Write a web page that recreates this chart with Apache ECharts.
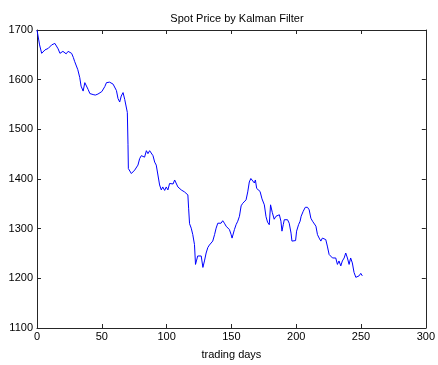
<!DOCTYPE html>
<html>
<head>
<meta charset="utf-8">
<style>
	html, body { margin: 0; padding: 0; background: #ffffff; }
	#chart { width: 438px; height: 365px; }
</style>
<script src="https://cdn.jsdelivr.net/npm/echarts@6/dist/echarts.min.js"></script>
</head>
<body>
<div id="chart"></div>
<script>
// trading day / filtered spot price
var days = [
	0, 1, 2, 3.6, 5, 6.2, 7.5, 8.7, 10, 11.3, 12.5, 13.8, 15, 16.3, 17.7, 19, 20, 21, 22.5, 24,
	25.4, 26.7, 28, 29, 30, 31.5, 33, 34, 35.6, 36.9, 37.7, 39.5, 40.8, 42, 43.3, 45, 45.9, 47, 48.5, 50,
	51, 52.3, 53.6, 54.8, 56, 57.4, 58.7, 60, 61.3, 62.5, 63.8, 65, 66.4, 67.7, 69, 69.7, 70.2, 70.5, 71.5, 72.8,
	74, 75.4, 76.5, 77.9, 79.2, 80.5, 81.8, 83, 84.4, 85.6, 86.9, 88.2, 89.5, 90.8, 92, 93.3, 94.6, 95.9, 97, 98.5,
	99.7, 101, 102.3, 103.6, 105, 106.2, 107.5, 108.7, 110, 111.3, 112.6, 113.8, 115.2, 116.4, 117, 117.7, 119, 120.2, 121.5, 122.3,
	123, 124, 125.4, 126.7, 128, 129.2, 130.5, 131.8, 133, 134.4, 135.6, 137, 138.2, 139.5, 140.8, 142, 143.3, 144.6, 145.9, 147.2,
	148.5, 149.8, 150.5, 152.3, 153.6, 154.9, 156.2, 157.5, 158.7, 160, 161.3, 162.6, 163.8, 165, 166.4, 167.7, 168.5, 169.5, 171, 172.1,
	173.6, 175.4, 176.7, 177.9, 179.2, 180.2, 181.5, 183, 184.4, 185.6, 187, 188.2, 189, 190, 190.8, 192, 193.3, 194.6, 196, 196.7,
	198, 199.5, 200.3, 201.8, 203, 203.8, 205.4, 207, 208.7, 210, 211.3, 212.6, 213.8, 215.2, 216.4, 217.7, 219, 220.2, 221.5, 222.8,
	224, 225.4, 226.7, 228, 229.2, 230.5, 231.8, 233, 234.4, 235.6, 237, 238.2, 239.5, 240.8, 242, 243.3, 244.6, 246, 247.2, 248.5,
	249.8, 251
];
var price = [
	1700, 1698, 1670, 1653, 1657, 1660, 1656, 1663, 1660, 1670, 1671, 1673, 1670, 1662, 1653, 1650, 1657, 1655, 1652, 1657,
	1659, 1653, 1645, 1637, 1634, 1620, 1604, 1587, 1577, 1594, 1597, 1580, 1572, 1570, 1570, 1569, 1570, 1571, 1574, 1576,
	1579, 1586, 1594, 1597, 1595, 1593, 1591, 1590, 1578, 1562, 1555, 1567, 1574, 1560, 1558, 1534, 1470, 1421, 1420, 1411,
	1409, 1418, 1415, 1428, 1441, 1447, 1451, 1444, 1457, 1451, 1457, 1461, 1447, 1434, 1428, 1408, 1388, 1378, 1384, 1377,
	1384, 1378, 1391, 1394, 1390, 1398, 1401, 1384, 1381, 1378, 1378, 1374, 1370, 1368, 1340, 1310, 1301, 1288, 1268, 1228,
	1235, 1245, 1241, 1245, 1222, 1235, 1251, 1262, 1267, 1271, 1275, 1288, 1301, 1311, 1315, 1311, 1316, 1311, 1305, 1301,
	1298, 1288, 1281, 1298, 1308, 1315, 1325, 1346, 1351, 1355, 1358, 1374, 1394, 1401, 1398, 1392, 1398, 1381, 1379, 1375,
	1360, 1348, 1324, 1313, 1308, 1348, 1333, 1319, 1325, 1322, 1328, 1315, 1295, 1308, 1318, 1315, 1318, 1311, 1291, 1275,
	1274, 1276, 1295, 1308, 1315, 1325, 1335, 1343, 1343, 1338, 1321, 1315, 1311, 1305, 1288, 1281, 1275, 1281, 1285, 1278,
	1265, 1248, 1245, 1241, 1238, 1241, 1228, 1235, 1225, 1235, 1241, 1251, 1241, 1228, 1241, 1231, 1212, 1202, 1201, 1205,
	1210, 1205
];

var chartTitle = 'Spot Price by Kalman Filter';
var xAxisName = 'trading days';

var chart = echarts.init(document.getElementById('chart'));

var axisColor = '#262626';
var labelFont = {
	fontSize: 11,
	fontFamily: 'Liberation Sans',
	color: '#000000'
};

var seriesData = [];
for (var i = 0; i < days.length; i++) {
	seriesData.push([days[i], price[i]]);
}

function plainNumber(v) {
	return String(v);
}

function boxAxis(extra) {
	var axis = {
		type: 'value',
		axisLine: { show: true, onZero: false, lineStyle: { color: axisColor, width: 1 } },
		axisTick: { show: true, inside: true, length: 4, lineStyle: { color: axisColor } },
		splitLine: { show: false }
	};
	for (var k in extra) axis[k] = extra[k];
	return axis;
}

chart.setOption({
	animation: false,
	backgroundColor: '#ffffff',
	title: {
		text: chartTitle,
		left: 232,
		top: 8,
		textAlign: 'center',
		textStyle: {
			fontSize: 11,
			fontWeight: 'normal',
			fontFamily: 'Liberation Sans',
			color: '#000000'
		}
	},
	grid: {
		left: 37,
		right: 11,
		top: 30,
		bottom: 34,
		containLabel: false
	},
	xAxis: [
		boxAxis({
			position: 'bottom',
			min: 0, max: 300, interval: 50,
			name: xAxisName,
			nameLocation: 'middle',
			nameGap: 21,
			nameTextStyle: labelFont,
			axisLabel: { show: true, margin: 3, fontSize: 11, fontFamily: 'Liberation Sans', color: '#000000', formatter: plainNumber }
		}),
		boxAxis({
			position: 'top',
			min: 0, max: 300, interval: 50,
			axisLabel: { show: false }
		})
	],
	yAxis: [
		boxAxis({
			position: 'left',
			min: 1100, max: 1700, interval: 100,
			axisLabel: { show: true, margin: 4, fontSize: 11, fontFamily: 'Liberation Sans', color: '#000000', formatter: plainNumber }
		}),
		boxAxis({
			position: 'right',
			min: 1100, max: 1700, interval: 100,
			axisLabel: { show: false }
		})
	],
	series: [
		{
			type: 'line',
			data: seriesData,
			xAxisIndex: 0,
			yAxisIndex: 0,
			showSymbol: false,
			symbol: 'none',
			smooth: false,
			lineStyle: { color: '#0000ff', width: 1 }
		}
	]
});
</script>
</body>
</html>
